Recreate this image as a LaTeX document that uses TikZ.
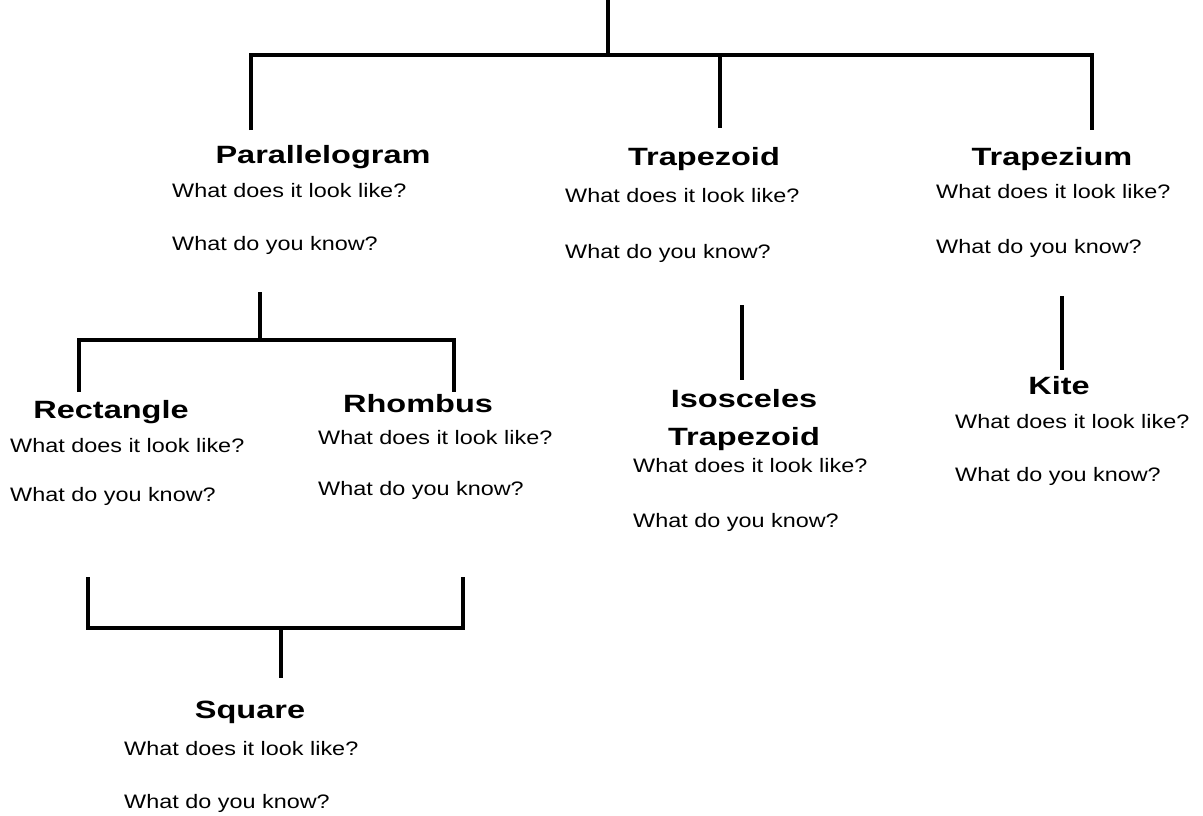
\documentclass[tikz,border=0pt]{standalone}
\usepackage{fontspec}
\newfontfamily\askfont{Liberation Sans}[FakeStretch=1.2]
\newfontfamily\headfont{Liberation Sans}[FakeStretch=1.3]
\usepackage{tikz}

\begin{document}
\begin{tikzpicture}[x=1pt, y=-1pt,
		tree/.style = {line width=3.2pt},
		title/.style = {anchor=base, inner sep=0pt, font=\headfont\bfseries\fontsize{25}{38}\selectfont},
		ask/.style = {anchor=base west, inner sep=0pt, font=\askfont\fontsize{19.5}{22}\selectfont}]
		\useasboundingbox (0,0) rectangle (1203,816);
		% top level
		\coordinate (root) at (608,0);
		\coordinate (j1) at (608,55);
		\coordinate (leg1) at (251,130);
		\coordinate (leg2) at (720,128);
		\coordinate (leg3) at (1092,130);
		\draw[tree] (root) -- (j1);
		\draw[tree] (leg1) |- (j1) -| (leg3);
		\draw[tree] (leg2 |- j1) -- (leg2);
		\node[title] (para) at (323,163) {Parallelogram};
		\node[ask] (paraq1) at (172,197) {What does it look like?};
		\node[ask] (paraq2) at (172,250) {What do you know?};
		\node[title] (trzd) at (704,165) {Trapezoid};
		\node[ask] (trzdq1) at (565,202) {What does it look like?};
		\node[ask] (trzdq2) at (565,258) {What do you know?};
		\node[title] (trzm) at (1052,165) {Trapezium};
		\node[ask] (trzmq1) at (936,198) {What does it look like?};
		\node[ask] (trzmq2) at (936,253) {What do you know?};
		% parallelogram branch
		\coordinate (j2top) at (260,292);
		\coordinate (j2) at (260,340);
		\coordinate (leg4) at (79,392);
		\coordinate (leg5) at (454,392);
		\draw[tree] (j2top) -- (j2);
		\draw[tree] (leg4) |- (j2) -| (leg5);
		\node[title] (rect) at (111,418) {Rectangle};
		\node[ask] (rectq1) at (10,452) {What does it look like?};
		\node[ask] (rectq2) at (10,501) {What do you know?};
		\node[title] (rhom) at (418,412) {Rhombus};
		\node[ask] (rhomq1) at (318,444) {What does it look like?};
		\node[ask] (rhomq2) at (318,495) {What do you know?};
		% square branch
		\coordinate (leg6) at (88,577);
		\coordinate (leg7) at (463,577);
		\coordinate (j3) at (281,628);
		\coordinate (j3bot) at (281,678);
		\draw[tree] (leg6) |- (j3) -| (leg7);
		\draw[tree] (j3) -- (j3bot);
		\node[title] (squa) at (250,718) {Square};
		\node[ask] (squaq1) at (124,755) {What does it look like?};
		\node[ask] (squaq2) at (124,808) {What do you know?};
		% trapezoid branch
		\coordinate (s1top) at (742,305);
		\coordinate (s1bot) at (742,380);
		\draw[tree] (s1top) -- (s1bot);
		\node[title, align=center] (isos) at (744,445) {Isosceles\\Trapezoid};
		\node[ask] (isosq1) at (633,472) {What does it look like?};
		\node[ask] (isosq2) at (633,527) {What do you know?};
		% trapezium branch
		\coordinate (s2top) at (1062,296);
		\coordinate (s2bot) at (1062,370);
		\draw[tree] (s2top) -- (s2bot);
		\node[title] (kite) at (1059,394) {Kite};
		\node[ask] (kiteq1) at (955,428) {What does it look like?};
		\node[ask] (kiteq2) at (955,481) {What do you know?};
	\end{tikzpicture}
\end{document}
